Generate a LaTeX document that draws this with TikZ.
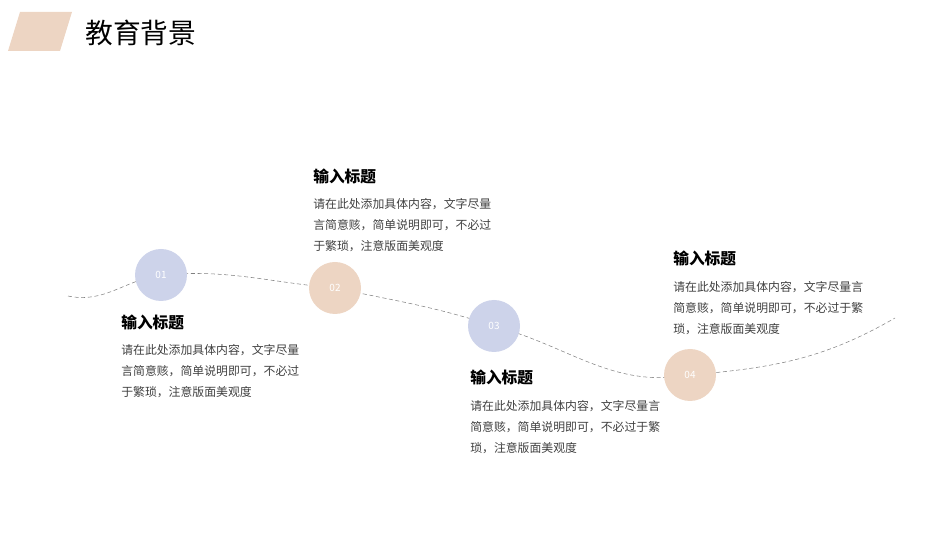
\documentclass[tikz,border=0pt]{standalone}
\usepackage{fontspec}
\setmainfont{Noto Sans CJK SC}
\newfontfamily\cjk{Noto Sans CJK SC}
\definecolor{peach}{HTML}{EDD5C3}
\definecolor{lavender}{HTML}{CDD3EA}
\definecolor{bodygray}{HTML}{404040}
\begin{document}
\begin{tikzpicture}[x=0.75pt,y=-0.75pt,
    dot/.style={circle,minimum size=39pt,inner sep=0pt,text=white,font=\fontsize{7.5}{9}\selectfont},
    heading/.style={anchor=west,inner sep=0pt,font=\cjk\fontsize{11.8}{14}\selectfont\bfseries},
    body/.style={anchor=north west,inner sep=0pt,align=left,text=bodygray,font=\cjk\fontsize{8.9}{15.9}\selectfont}]
  \useasboundingbox (0,0) rectangle (950,534);
  % title bar
  \fill[peach] (20,12) -- (72,12) -- (60,51) -- (8,51) -- cycle;
  \node[anchor=west,inner sep=0pt,font=\cjk\fontsize{20.8}{24}\selectfont] (title) at (85,33) {教育背景};
  % path through the steps
  \coordinate (start) at (68,296);
  \coordinate (finish) at (895,318);
  \coordinate (p1) at (161,275);
  \coordinate (p2) at (335,288);
  \coordinate (p3) at (494,326);
  \coordinate (p4) at (690,375);
  \draw[densely dashed,gray,line width=0.4pt] (start) to[out=-12,in=188] (p1)
      to[out=5,in=175] (p2) to[out=-12,in=162] (p3) to[out=-15,in=190] (p4)
      to[out=5,in=210] (finish);
  \node[dot,fill=lavender] (s1) at (p1) {01};
  \node[dot,fill=peach] (s2) at (p2) {02};
  \node[dot,fill=lavender] (s3) at (p3) {03};
  \node[dot,fill=peach] (s4) at (p4) {04};
  % text blocks
  \node[heading] (h1) at (121,322) {输入标题};
  \node[body] (b1) at (121,344) {请在此处添加具体内容，文字尽量\\言简意赅，简单说明即可，不必过\\于繁琐，注意版面美观度};
  \node[heading] (h2) at (313,176) {输入标题};
  \node[body] (b2) at (313,198) {请在此处添加具体内容，文字尽量\\言简意赅，简单说明即可，不必过\\于繁琐，注意版面美观度};
  \node[heading] (h3) at (470,377) {输入标题};
  \node[body] (b3) at (470,400) {请在此处添加具体内容，文字尽量言\\简意赅，简单说明即可，不必过于繁\\琐，注意版面美观度};
  \node[heading] (h4) at (673,258) {输入标题};
  \node[body] (b4) at (673,281) {请在此处添加具体内容，文字尽量言\\简意赅，简单说明即可，不必过于繁\\琐，注意版面美观度};
\end{tikzpicture}
\end{document}
